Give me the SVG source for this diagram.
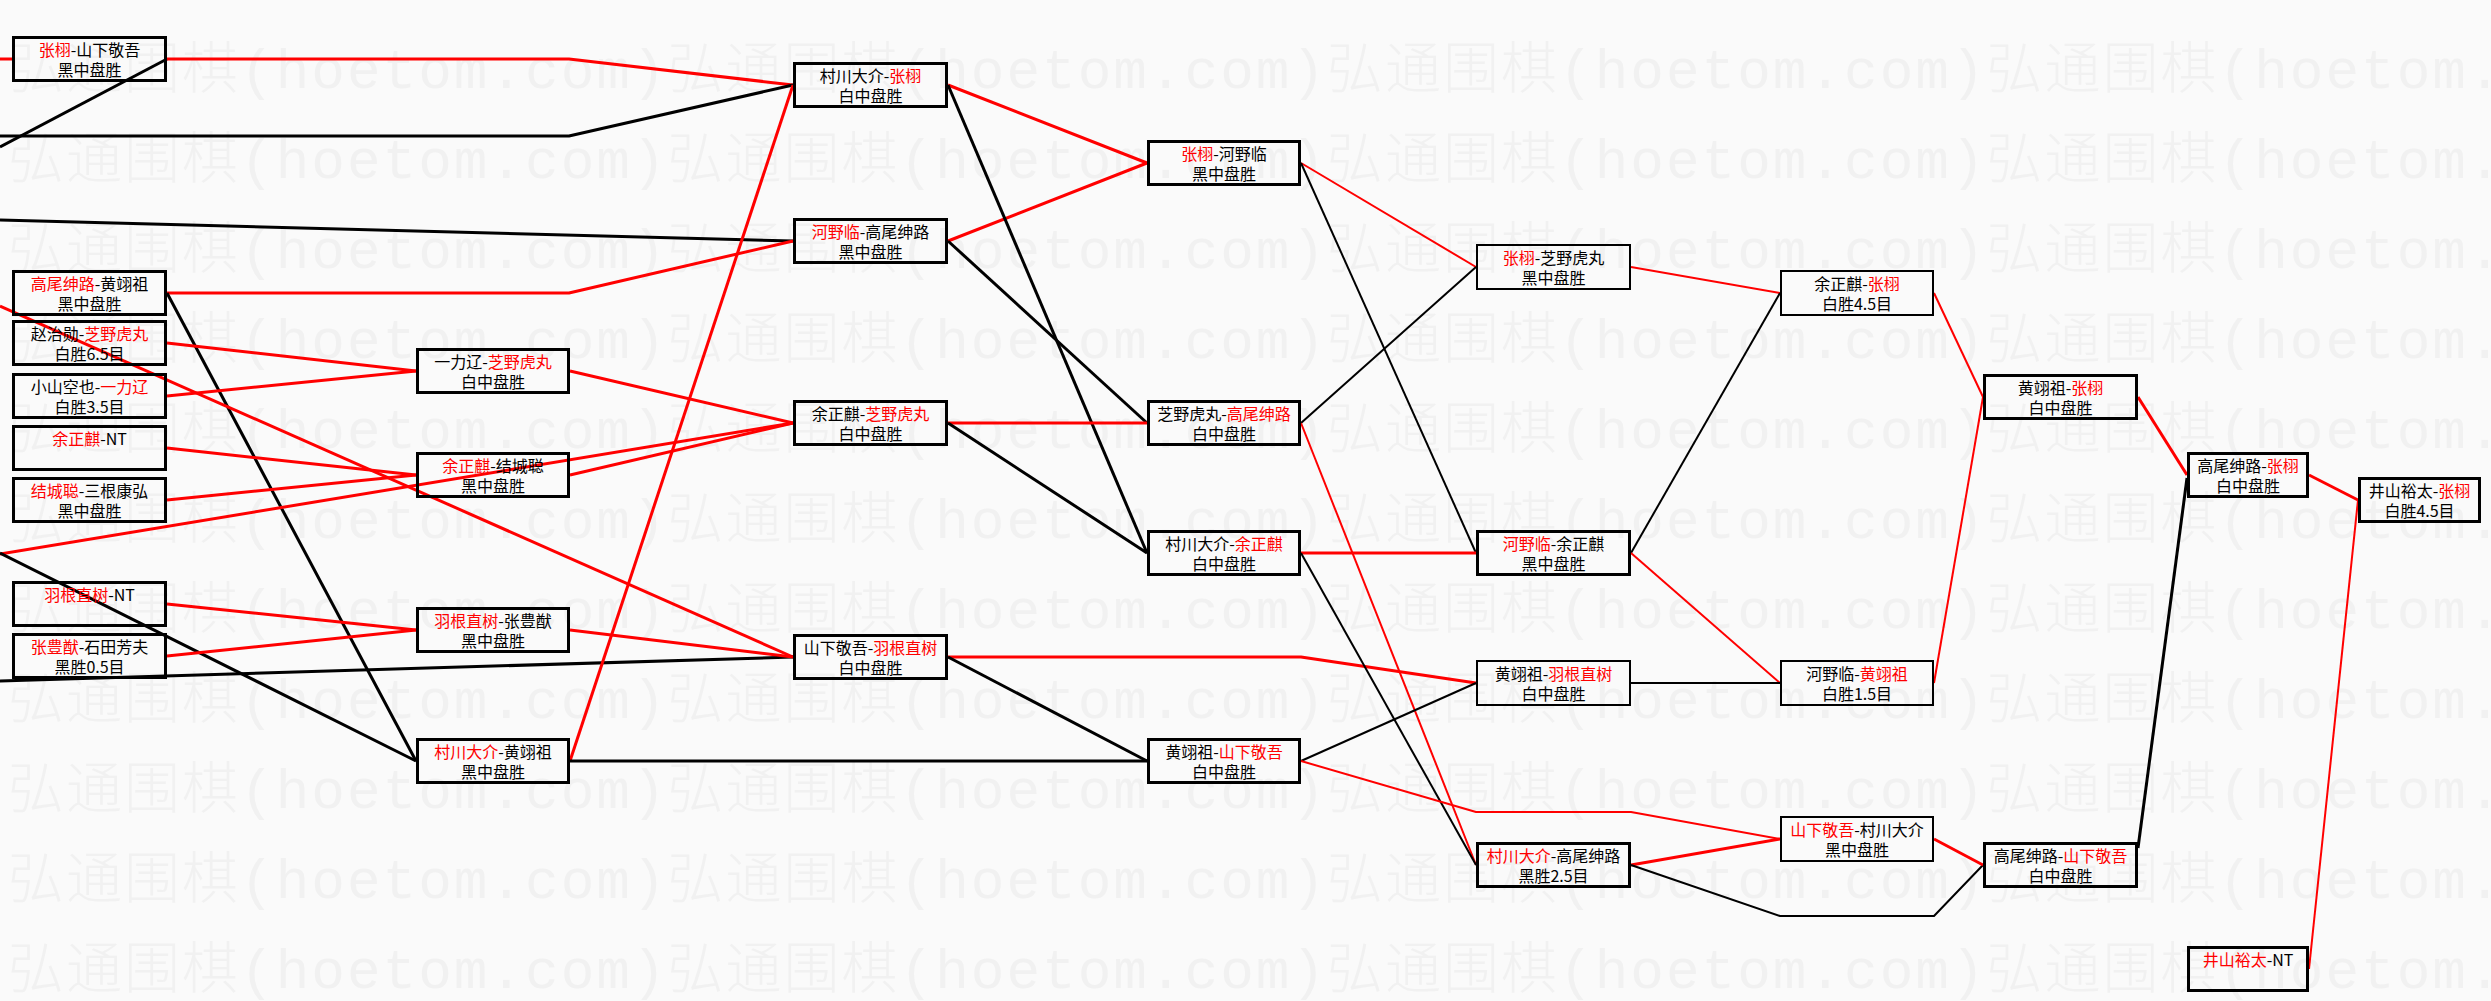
<svg xmlns="http://www.w3.org/2000/svg" width="2491" height="1001" viewBox="0 0 2491 1001">
<style>
.bg{fill:#fafafa}
.wm{font-family:"Liberation Mono","Noto Sans CJK SC",monospace;font-size:56px;font-weight:300;fill:#f1f1f1}
.box{fill:none;stroke:#000;stroke-width:3}
.thin{stroke-width:2}
.t{font-family:"Noto Sans CJK SC","Liberation Sans",sans-serif;font-size:16px;text-anchor:middle;fill:#000}
.r{fill:#f00}
.k{fill:none;stroke:#000;stroke-width:3;stroke-linejoin:round}
.rd{fill:none;stroke:#f00;stroke-width:3;stroke-linejoin:round}
.w2{stroke-width:2}
</style>
<rect class="bg" x="0" y="0" width="2491" height="1001"/>
<g id="watermark">
<text class="wm" x="8" y="88" textLength="2636" lengthAdjust="spacing">弘通围棋(hoetom.com)弘通围棋(hoetom.com)弘通围棋(hoetom.com)弘通围棋(hoetom.com)</text>
<text class="wm" x="8" y="178" textLength="2636" lengthAdjust="spacing">弘通围棋(hoetom.com)弘通围棋(hoetom.com)弘通围棋(hoetom.com)弘通围棋(hoetom.com)</text>
<text class="wm" x="8" y="268" textLength="2636" lengthAdjust="spacing">弘通围棋(hoetom.com)弘通围棋(hoetom.com)弘通围棋(hoetom.com)弘通围棋(hoetom.com)</text>
<text class="wm" x="8" y="358" textLength="2636" lengthAdjust="spacing">弘通围棋(hoetom.com)弘通围棋(hoetom.com)弘通围棋(hoetom.com)弘通围棋(hoetom.com)</text>
<text class="wm" x="8" y="448" textLength="2636" lengthAdjust="spacing">弘通围棋(hoetom.com)弘通围棋(hoetom.com)弘通围棋(hoetom.com)弘通围棋(hoetom.com)</text>
<text class="wm" x="8" y="538" textLength="2636" lengthAdjust="spacing">弘通围棋(hoetom.com)弘通围棋(hoetom.com)弘通围棋(hoetom.com)弘通围棋(hoetom.com)</text>
<text class="wm" x="8" y="628" textLength="2636" lengthAdjust="spacing">弘通围棋(hoetom.com)弘通围棋(hoetom.com)弘通围棋(hoetom.com)弘通围棋(hoetom.com)</text>
<text class="wm" x="8" y="718" textLength="2636" lengthAdjust="spacing">弘通围棋(hoetom.com)弘通围棋(hoetom.com)弘通围棋(hoetom.com)弘通围棋(hoetom.com)</text>
<text class="wm" x="8" y="808" textLength="2636" lengthAdjust="spacing">弘通围棋(hoetom.com)弘通围棋(hoetom.com)弘通围棋(hoetom.com)弘通围棋(hoetom.com)</text>
<text class="wm" x="8" y="898" textLength="2636" lengthAdjust="spacing">弘通围棋(hoetom.com)弘通围棋(hoetom.com)弘通围棋(hoetom.com)弘通围棋(hoetom.com)</text>
<text class="wm" x="8" y="988" textLength="2636" lengthAdjust="spacing">弘通围棋(hoetom.com)弘通围棋(hoetom.com)弘通围棋(hoetom.com)弘通围棋(hoetom.com)</text>
</g>
<g id="connectors">
<path class="rd" d="M0 59H12"/>
<path class="k" d="M0 147L167 59"/>
<path class="rd" d="M167 59H569L793 85"/>
<path class="k" d="M0 136H569L793 85"/>
<path class="k" d="M0 220L793 241"/>
<path class="rd" d="M167 293H569L793 241"/>
<path class="k" d="M167 293L416 761"/>
<path class="rd" d="M167 343L416 371"/>
<path class="rd" d="M167 396L416 371"/>
<path class="rd" d="M0 306L793 657"/>
<path class="rd" d="M167 448L416 475"/>
<path class="rd" d="M167 500L416 475"/>
<path class="rd" d="M0 554L793 423"/>
<path class="rd" d="M570 475L793 423"/>
<path class="rd" d="M570 371L793 423"/>
<path class="k" d="M0 553L416 761"/>
<path class="rd" d="M167 604L416 630"/>
<path class="rd" d="M167 656L416 630"/>
<path class="k" d="M0 681L793 657"/>
<path class="rd" d="M570 630L793 657"/>
<path class="rd" d="M570 761L793 85"/>
<path class="k" d="M570 761H1147"/>
<path class="rd" d="M948 85L1147 163"/>
<path class="rd" d="M948 241L1147 163"/>
<path class="k" d="M948 85L1147 553"/>
<path class="k" d="M948 241L1147 423"/>
<path class="rd" d="M948 423H1147"/>
<path class="k" d="M948 423L1147 553"/>
<path class="rd" d="M948 657H1301L1476 683"/>
<path class="k" d="M948 657L1147 761"/>
<path class="rd w2" d="M1301 163L1476 267"/>
<path class="k w2" d="M1301 163L1476 553"/>
<path class="k w2" d="M1301 423L1476 267"/>
<path class="rd w2" d="M1301 423L1476 865"/>
<path class="rd" d="M1301 553H1476"/>
<path class="k w2" d="M1301 553L1476 865"/>
<path class="k w2" d="M1301 761L1476 683"/>
<path class="rd w2" d="M1301 761L1476 812H1631L1780 839"/>
<path class="rd w2" d="M1631 267L1780 293"/>
<path class="k w2" d="M1631 553L1780 293"/>
<path class="rd w2" d="M1631 553L1780 683"/>
<path class="k w2" d="M1631 683H1780"/>
<path class="rd" d="M1631 865L1780 839"/>
<path class="k w2" d="M1631 865L1780 916H1934L1983 865"/>
<path class="rd w2" d="M1934 293L1983 397"/>
<path class="rd w2" d="M1934 683L1983 397"/>
<path class="rd" d="M1934 839L1983 865"/>
<path class="rd" d="M2138 397L2187 475"/>
<path class="k" d="M2138 848L2187 478"/>
<path class="rd" d="M2309 475L2358 500"/>
<path class="rd w2" d="M2309 969L2358 500"/>
</g>
<g id="c1r1"><rect class="box" x="13.5" y="37.5" width="152" height="43"/><text class="t" x="89.5" y="56"><tspan class="r">张栩</tspan>-山下敬吾</text><text class="t" x="89.5" y="76">黑中盘胜</text></g>
<g id="c1r2"><rect class="box" x="13.5" y="271.5" width="152" height="43"/><text class="t" x="89.5" y="290"><tspan class="r">高尾绅路</tspan>-黄翊祖</text><text class="t" x="89.5" y="310">黑中盘胜</text></g>
<g id="c1r3"><rect class="box" x="13.5" y="321.5" width="152" height="43"/><text class="t" x="89.5" y="340">赵治勋-<tspan class="r">芝野虎丸</tspan></text><text class="t" x="89.5" y="360">白胜6.5目</text></g>
<g id="c1r4"><rect class="box" x="13.5" y="374.5" width="152" height="43"/><text class="t" x="89.5" y="393">小山空也-<tspan class="r">一力辽</tspan></text><text class="t" x="89.5" y="413">白胜3.5目</text></g>
<g id="c1r5"><rect class="box" x="13.5" y="426.5" width="152" height="43"/><text class="t" x="89.5" y="445"><tspan class="r">余正麒</tspan>-NT</text></g>
<g id="c1r6"><rect class="box" x="13.5" y="478.5" width="152" height="43"/><text class="t" x="89.5" y="497"><tspan class="r">结城聪</tspan>-三根康弘</text><text class="t" x="89.5" y="517">黑中盘胜</text></g>
<g id="c1r7"><rect class="box" x="13.5" y="582.5" width="152" height="43"/><text class="t" x="89.5" y="601"><tspan class="r">羽根直树</tspan>-NT</text></g>
<g id="c1r8"><rect class="box" x="13.5" y="634.5" width="152" height="43"/><text class="t" x="89.5" y="653"><tspan class="r">张豊猷</tspan>-石田芳夫</text><text class="t" x="89.5" y="673">黑胜0.5目</text></g>
<g id="c2r1"><rect class="box" x="417.5" y="349.5" width="151" height="43"/><text class="t" x="493" y="368">一力辽-<tspan class="r">芝野虎丸</tspan></text><text class="t" x="493" y="388">白中盘胜</text></g>
<g id="c2r2"><rect class="box" x="417.5" y="453.5" width="151" height="43"/><text class="t" x="493" y="472"><tspan class="r">余正麒</tspan>-结城聪</text><text class="t" x="493" y="492">黑中盘胜</text></g>
<g id="c2r3"><rect class="box" x="417.5" y="608.5" width="151" height="43"/><text class="t" x="493" y="627"><tspan class="r">羽根直树</tspan>-张豊猷</text><text class="t" x="493" y="647">黑中盘胜</text></g>
<g id="c2r4"><rect class="box" x="417.5" y="739.5" width="151" height="43"/><text class="t" x="493" y="758"><tspan class="r">村川大介</tspan>-黄翊祖</text><text class="t" x="493" y="778">黑中盘胜</text></g>
<g id="c3r1"><rect class="box" x="794.5" y="63.5" width="152" height="43"/><text class="t" x="870.5" y="82">村川大介-<tspan class="r">张栩</tspan></text><text class="t" x="870.5" y="102">白中盘胜</text></g>
<g id="c3r2"><rect class="box" x="794.5" y="219.5" width="152" height="43"/><text class="t" x="870.5" y="238"><tspan class="r">河野临</tspan>-高尾绅路</text><text class="t" x="870.5" y="258">黑中盘胜</text></g>
<g id="c3r3"><rect class="box" x="794.5" y="401.5" width="152" height="43"/><text class="t" x="870.5" y="420">余正麒-<tspan class="r">芝野虎丸</tspan></text><text class="t" x="870.5" y="440">白中盘胜</text></g>
<g id="c3r4"><rect class="box" x="794.5" y="635.5" width="152" height="43"/><text class="t" x="870.5" y="654">山下敬吾-<tspan class="r">羽根直树</tspan></text><text class="t" x="870.5" y="674">白中盘胜</text></g>
<g id="c4r1"><rect class="box" x="1148.5" y="141.5" width="151" height="43"/><text class="t" x="1224" y="160"><tspan class="r">张栩</tspan>-河野临</text><text class="t" x="1224" y="180">黑中盘胜</text></g>
<g id="c4r2"><rect class="box" x="1148.5" y="401.5" width="151" height="43"/><text class="t" x="1224" y="420">芝野虎丸-<tspan class="r">高尾绅路</tspan></text><text class="t" x="1224" y="440">白中盘胜</text></g>
<g id="c4r3"><rect class="box" x="1148.5" y="531.5" width="151" height="43"/><text class="t" x="1224" y="550">村川大介-<tspan class="r">余正麒</tspan></text><text class="t" x="1224" y="570">白中盘胜</text></g>
<g id="c4r4"><rect class="box" x="1148.5" y="739.5" width="151" height="43"/><text class="t" x="1224" y="758">黄翊祖-<tspan class="r">山下敬吾</tspan></text><text class="t" x="1224" y="778">白中盘胜</text></g>
<g id="c5r1"><rect class="box thin" x="1477" y="245" width="153" height="44"/><text class="t" x="1553.5" y="264"><tspan class="r">张栩</tspan>-芝野虎丸</text><text class="t" x="1553.5" y="284">黑中盘胜</text></g>
<g id="c5r2"><rect class="box" x="1477.5" y="531.5" width="152" height="43"/><text class="t" x="1553.5" y="550"><tspan class="r">河野临</tspan>-余正麒</text><text class="t" x="1553.5" y="570">黑中盘胜</text></g>
<g id="c5r3"><rect class="box thin" x="1477" y="661" width="153" height="44"/><text class="t" x="1553.5" y="680">黄翊祖-<tspan class="r">羽根直树</tspan></text><text class="t" x="1553.5" y="700">白中盘胜</text></g>
<g id="c5r4"><rect class="box" x="1477.5" y="843.5" width="152" height="43"/><text class="t" x="1553.5" y="862"><tspan class="r">村川大介</tspan>-高尾绅路</text><text class="t" x="1553.5" y="882">黑胜2.5目</text></g>
<g id="c6r1"><rect class="box thin" x="1781" y="271" width="152" height="44"/><text class="t" x="1857" y="290">余正麒-<tspan class="r">张栩</tspan></text><text class="t" x="1857" y="310">白胜4.5目</text></g>
<g id="c6r2"><rect class="box thin" x="1781" y="661" width="152" height="44"/><text class="t" x="1857" y="680">河野临-<tspan class="r">黄翊祖</tspan></text><text class="t" x="1857" y="700">白胜1.5目</text></g>
<g id="c6r3"><rect class="box thin" x="1781" y="817" width="152" height="44"/><text class="t" x="1857" y="836"><tspan class="r">山下敬吾</tspan>-村川大介</text><text class="t" x="1857" y="856">黑中盘胜</text></g>
<g id="c7r1"><rect class="box" x="1984.5" y="375.5" width="152" height="43"/><text class="t" x="2060.5" y="394">黄翊祖-<tspan class="r">张栩</tspan></text><text class="t" x="2060.5" y="414">白中盘胜</text></g>
<g id="c7r2"><rect class="box" x="1984.5" y="843.5" width="152" height="43"/><text class="t" x="2060.5" y="862">高尾绅路-<tspan class="r">山下敬吾</tspan></text><text class="t" x="2060.5" y="882">白中盘胜</text></g>
<g id="c8r1"><rect class="box" x="2188.5" y="453.5" width="119" height="43"/><text class="t" x="2248" y="472">高尾绅路-<tspan class="r">张栩</tspan></text><text class="t" x="2248" y="492">白中盘胜</text></g>
<g id="c8r2"><rect class="box" x="2188.5" y="947.5" width="119" height="43"/><text class="t" x="2248" y="966"><tspan class="r">井山裕太</tspan>-NT</text></g>
<g id="c9r1"><rect class="box" x="2359.5" y="478.5" width="120" height="43"/><text class="t" x="2419.5" y="497">井山裕太-<tspan class="r">张栩</tspan></text><text class="t" x="2419.5" y="517">白胜4.5目</text></g>
</svg>
